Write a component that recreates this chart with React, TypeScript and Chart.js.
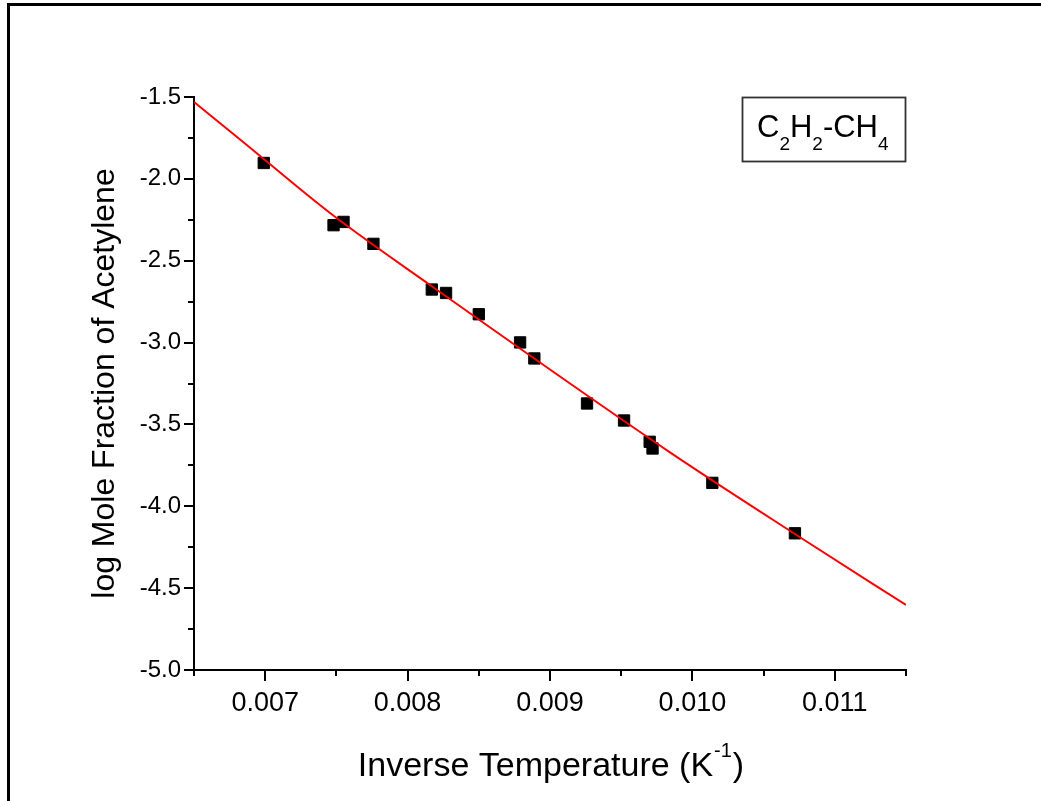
import React, { useEffect, useRef } from 'react';
import { Chart, registerables } from 'chart.js';

Chart.register(...registerables);

// Measured data (inverse temperature in 1/K, log10 mole fraction of acetylene)
const inverseTemperature = [0.00699, 0.00748, 0.00755, 0.00776, 0.00817, 0.00827, 0.0085, 0.00879, 0.00889, 0.00926, 0.00952, 0.0097, 0.00972, 0.01014, 0.01072];
const logMoleFraction = [-1.903, -2.283, -2.263, -2.397, -2.676, -2.697, -2.827, -2.999, -3.097, -3.372, -3.476, -3.606, -3.647, -3.857, -4.165];

// Fitted curve
const fitX = [0.0065, 0.00683, 0.00746, 0.00816, 0.00984, 0.01075, 0.0115];
const fitY = [-1.531, -1.764, -2.212, -2.65, -3.669, -4.186, -4.603];

// Axis ticks
const xTickValues = [0.0065, 0.007, 0.0075, 0.008, 0.0085, 0.009, 0.0095, 0.01, 0.0105, 0.011, 0.0115];
const xTickLabels = ['', '0.007', '', '0.008', '', '0.009', '', '0.010', '', '0.011', ''];
const yTickValues = [-5.0, -4.75, -4.5, -4.25, -4.0, -3.75, -3.5, -3.25, -3.0, -2.75, -2.5, -2.25, -2.0, -1.75, -1.5];
const yTickLabels = ['-5.0', '', '-4.5', '', '-4.0', '', '-3.5', '', '-3.0', '', '-2.5', '', '-2.0', '', '-1.5'];

const xTitle = 'Inverse Temperature (K';
const xTitleSup = '-1';
const xTitleEnd = ')';
const yTitle = 'log Mole Fraction of Acetylene';
const legendParts: [string, boolean][] = [['C', false], ['2', true], ['H', false], ['2', true], ['-CH', false], ['4', true]];

const FONT = '"Liberation Sans", Arial, sans-serif';

const decorPlugin = {
  id: 'decor',
  afterDraw(chart: any) {
    const { ctx, chartArea } = chart;
    const xs = chart.scales.x;
    const ys = chart.scales.y;
    const W = chart.width;
    const H = chart.height;
    ctx.save();
    // outer frame (top and left)
    ctx.fillStyle = '#000';
    ctx.fillRect(7, 3, W - 7, 3);
    ctx.fillRect(7, 3, 3, H - 3);

    // ticks (major & minor)
    ctx.strokeStyle = '#000';
    ctx.lineWidth = 2;
    xs.ticks.forEach((t: any) => {
      const px = Math.round(xs.getPixelForValue(t.value));
      const len = t.label ? 11 : 6;
      ctx.beginPath();
      ctx.moveTo(px, chartArea.bottom);
      ctx.lineTo(px, chartArea.bottom + len);
      ctx.stroke();
    });
    ys.ticks.forEach((t: any) => {
      const py = Math.round(ys.getPixelForValue(t.value));
      const len = t.label ? 10 : 6;
      ctx.beginPath();
      ctx.moveTo(chartArea.left, py);
      ctx.lineTo(chartArea.left - len, py);
      ctx.stroke();
    });

    // x title with superscript
    ctx.fillStyle = '#000';
    ctx.textBaseline = 'alphabetic';
    ctx.textAlign = 'left';
    const mainFont = '34px ' + FONT;
    const supFont = '20px ' + FONT;
    ctx.font = mainFont;
    const w1 = ctx.measureText(xTitle).width;
    const w3 = ctx.measureText(xTitleEnd).width;
    ctx.font = supFont;
    const w2 = ctx.measureText(xTitleSup).width;
    const cx = (chartArea.left + chartArea.right) / 2;
    let sx = cx - (w1 + w2 + w3) / 2;
    const base = chartArea.bottom + 106;
    ctx.font = mainFont;
    ctx.fillText(xTitle, sx, base);
    sx += w1 + 1;
    ctx.font = supFont;
    ctx.fillText(xTitleSup, sx, base - 19);
    sx += w2 + 1;
    ctx.font = mainFont;
    ctx.fillText(xTitleEnd, sx, base);

    // legend box
    const bw = 164;
    const bh = 65;
    const bx = chartArea.right - bw;
    const by = chartArea.top;
    ctx.strokeStyle = '#333';
    ctx.lineWidth = 1.8;
    ctx.strokeRect(bx + 0.5, by + 0.5, bw - 1, bh - 1);
    let tx = bx + 15;
    legendParts.forEach(([s, sub]) => {
      ctx.font = (sub ? '19px ' : '31px ') + FONT;
      ctx.fillText(s, tx, sub ? by + 53 : by + 40);
      tx += ctx.measureText(s).width;
    });
    ctx.restore();
  },
};

export default function App() {
  const ref = useRef<HTMLCanvasElement>(null);
  useEffect(() => {
    if (!ref.current) return;
    const chart = new Chart(ref.current, {
      type: 'scatter',
      data: {
        datasets: [
          {
            label: 'Fit',
            data: fitX.map((x, i) => ({ x, y: fitY[i] })),
            showLine: true,
            borderColor: '#ff0000',
            backgroundColor: '#ff0000',
            borderWidth: 2,
            pointRadius: 0,
            cubicInterpolationMode: 'monotone',
            order: 0,
          } as any,
          {
            label: 'C2H2-CH4',
            data: inverseTemperature.map((x, i) => ({ x, y: logMoleFraction[i] })),
            showLine: false,
            pointStyle: 'rect',
            pointRadius: 8,
            backgroundColor: '#000',
            borderColor: '#000',
            borderWidth: 1,
            order: 1,
          },
        ],
      },
      options: {
        animation: false,
        responsive: false,
        devicePixelRatio: 1,
        layout: { padding: { left: 0, top: 97, right: 135, bottom: 0 } },
        plugins: { legend: { display: false }, tooltip: { enabled: false } },
        scales: {
          x: {
            type: 'linear',
            min: 0.0065,
            max: 0.0115,
            afterBuildTicks: (s: any) => {
              s.ticks = xTickValues.map((v) => ({ value: v }));
            },
            afterFit: (s: any) => {
              s.height = 131;
            },
            ticks: {
              autoSkip: false,
              maxRotation: 0,
              color: '#000',
              padding: 6,
              font: { family: FONT, size: 27 },
              callback: (_v: any, i: number) => xTickLabels[i],
            },
            grid: { drawOnChartArea: false, tickLength: 11, tickColor: 'rgba(0,0,0,0)' },
            border: { display: true, color: '#000', width: 2 },
          },
          y: {
            type: 'linear',
            min: -5.0,
            max: -1.5,
            afterBuildTicks: (s: any) => {
              s.ticks = yTickValues.map((v) => ({ value: v }));
            },
            afterFit: (s: any) => {
              s.width = 194;
            },
            ticks: {
              autoSkip: false,
              color: '#000',
              padding: 3,
              font: { family: FONT, size: 24 },
              callback: (_v: any, i: number) => yTickLabels[i],
            },
            grid: { drawOnChartArea: false, tickLength: 10, tickColor: 'rgba(0,0,0,0)' },
            border: { display: true, color: '#000', width: 2 },
            title: {
              display: true,
              text: yTitle,
              color: '#000',
              font: { family: FONT, size: 32 },
              padding: { top: 86, bottom: 0 },
            },
          },
        },
      },
      plugins: [decorPlugin],
    });
    return () => chart.destroy();
  }, []);
  return (
    <div style={{ position: 'absolute', left: 0, top: 0, width: 1041, height: 801, background: '#fff' }}>
      <canvas ref={ref} width={1041} height={801} style={{ display: 'block' }} />
    </div>
  );
}
